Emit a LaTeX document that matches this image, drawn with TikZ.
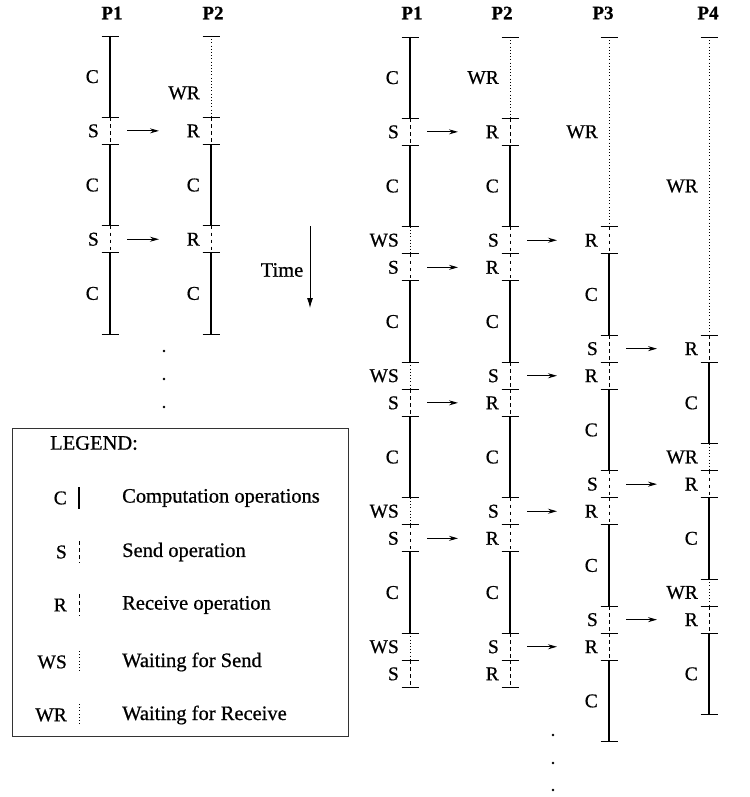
\documentclass[tikz,border=0pt]{standalone}
\usepackage{fontspec}
\setmainfont{Liberation Serif}[RawFeature={embolden=0.7}]
\usetikzlibrary{arrows.meta}
\tikzset{
  comp/.style={line width=2.3pt},
  sr/.style={line width=1pt, dash pattern=on 3.5pt off 3.5pt},
  wait/.style={line width=0.9pt, dash pattern=on 0.9pt off 2.3pt},
  tickline/.style={line width=0.9pt},
  lab/.style={anchor=east, inner sep=0pt, font=\fontsize{19.5}{22}\selectfont},
  head/.style={inner sep=0pt, font=\fontsize{19}{22}\selectfont\bfseries},
  lgtext/.style={anchor=west, inner sep=0pt, font=\fontsize{20.5}{23}\selectfont},
  msg/.style={line width=0.9pt, -{Stealth[length=9pt,width=5pt]}},
  dotmark/.style={fill=black, circle, inner sep=0pt, minimum size=2.8pt},
}
\newcommand\proc[4]{%
  \foreach \t/\a/\b/\l [count=\i] in {#4}{
    \draw[\t] (#2,{#3+\a*27.1}) -- (#2,{#3+\b*27.1});
    \draw[tickline] ({#2-8.5},{#3+\a*27.1}) -- ++(17,0);
    \draw[tickline] ({#2-8.5},{#3+\b*27.1}) -- ++(17,0);
    \ifx\l\empty\else
      \node[lab] (#1-\i) at ({#2-11},{#3+(\a+\b)/2*27.1}) {\l};
    \fi
  }%
}
\begin{document}
\begin{tikzpicture}[x=1pt, y=-1pt, font=\fontsize{20}{22}\selectfont]
\useasboundingbox (0,0) rectangle (749,797);

% ---------- left diagram ----------
\node[head] (lp1) at (112,13) {P1};
\node[head] (lp2) at (213,13) {P2};
\proc{la}{110}{36}{comp/0/3/C, sr/3/4/S, comp/4/7/C, sr/7/8/S, comp/8/11/C}
\proc{lb}{211}{36}{wait/0/3/, sr/3/4/R, comp/4/7/C, sr/7/8/R, comp/8/11/C}
\node[lab] (lbwr) at (200,93) {WR};
\foreach \u [count=\k] in {3.5,7.5}{
  \coordinate (lms\k) at (127,{36+\u*27.1});
  \coordinate (lmr\k) at (159,{36+\u*27.1});
  \draw[msg] (lms\k) -- (lmr\k);
}
\foreach \yy [count=\k] in {351,379,407}{ \node[dotmark] (ld\k) at (164,\yy) {}; }

% time arrow
\coordinate (ta) at (310,226);
\coordinate (tb) at (310,308);
\draw[line width=0.9pt, -{Latex[length=10pt,width=6pt]}] (ta) -- (tb);
\node[font=\fontsize{20.5}{23}\selectfont] (time) at (282,270) {Time};

% ---------- legend ----------
\draw[line width=0.8pt, black!80] (12,428) rectangle (348,736);
\node[lgtext] (lgt) at (50,443) {LEGEND:};
\foreach \st/\l/\txt/\yy [count=\k] in {comp/C/Computation operations/498, sr/S/Send operation/552, sr/R/Receive operation/605, wait/WS/Waiting for Send/662, wait/WR/Waiting for Receive/715}{
  \node[lab] (lgl\k) at (67,\yy) {\l};
  \draw[\st] (79,{\yy-11}) -- (79,{\yy+11});
  \node[lgtext] (lgx\k) at (122,\yy) {\txt};
}

% ---------- right diagram ----------
\node[head] (rp1) at (412,13) {P1};
\node[head] (rp2) at (502,13) {P2};
\node[head] (rp3) at (603,13) {P3};
\node[head] (rp4) at (708,13) {P4};
\proc{ra}{410}{37}{comp/0/3/C, sr/3/4/S, comp/4/7/C, wait/7/8/WS, sr/8/9/S, comp/9/12/C, wait/12/13/WS, sr/13/14/S, comp/14/17/C, wait/17/18/WS, sr/18/19/S, comp/19/22/C, wait/22/23/WS, sr/23/24/S}
\proc{rb}{510}{37}{wait/0/3/WR, sr/3/4/R, comp/4/7/C, sr/7/8/S, sr/8/9/R, comp/9/12/C, sr/12/13/S, sr/13/14/R, comp/14/17/C, sr/17/18/S, sr/18/19/R, comp/19/22/C, sr/22/23/S, sr/23/24/R}
\proc{rc}{609}{37}{wait/0/7/WR, sr/7/8/R, comp/8/11/C, sr/11/12/S, sr/12/13/R, comp/13/16/C, sr/16/17/S, sr/17/18/R, comp/18/21/C, sr/21/22/S, sr/22/23/R, comp/23/26/C}
\proc{rd}{709}{37}{wait/0/11/WR, sr/11/12/R, comp/12/15/C, wait/15/16/WR, sr/16/17/R, comp/17/20/C, wait/20/21/WR, sr/21/22/R, comp/22/25/C}

\foreach \xa/\xb/\u [count=\k] in {410/510/3.5, 410/510/8.5, 410/510/13.5, 410/510/18.5, 510/609/7.5, 510/609/12.5, 510/609/17.5, 510/609/22.5, 609/709/11.5, 609/709/16.5, 609/709/21.5}{
  \coordinate (rms\k) at ({\xa+17},{37+\u*27.1});
  \coordinate (rmr\k) at ({\xb-52},{37+\u*27.1});
  \draw[msg] (rms\k) -- (rmr\k);
}
\foreach \yy [count=\k] in {735,763,790}{ \node[dotmark] (rdt\k) at (553,\yy) {}; }
\end{tikzpicture}
\end{document}
